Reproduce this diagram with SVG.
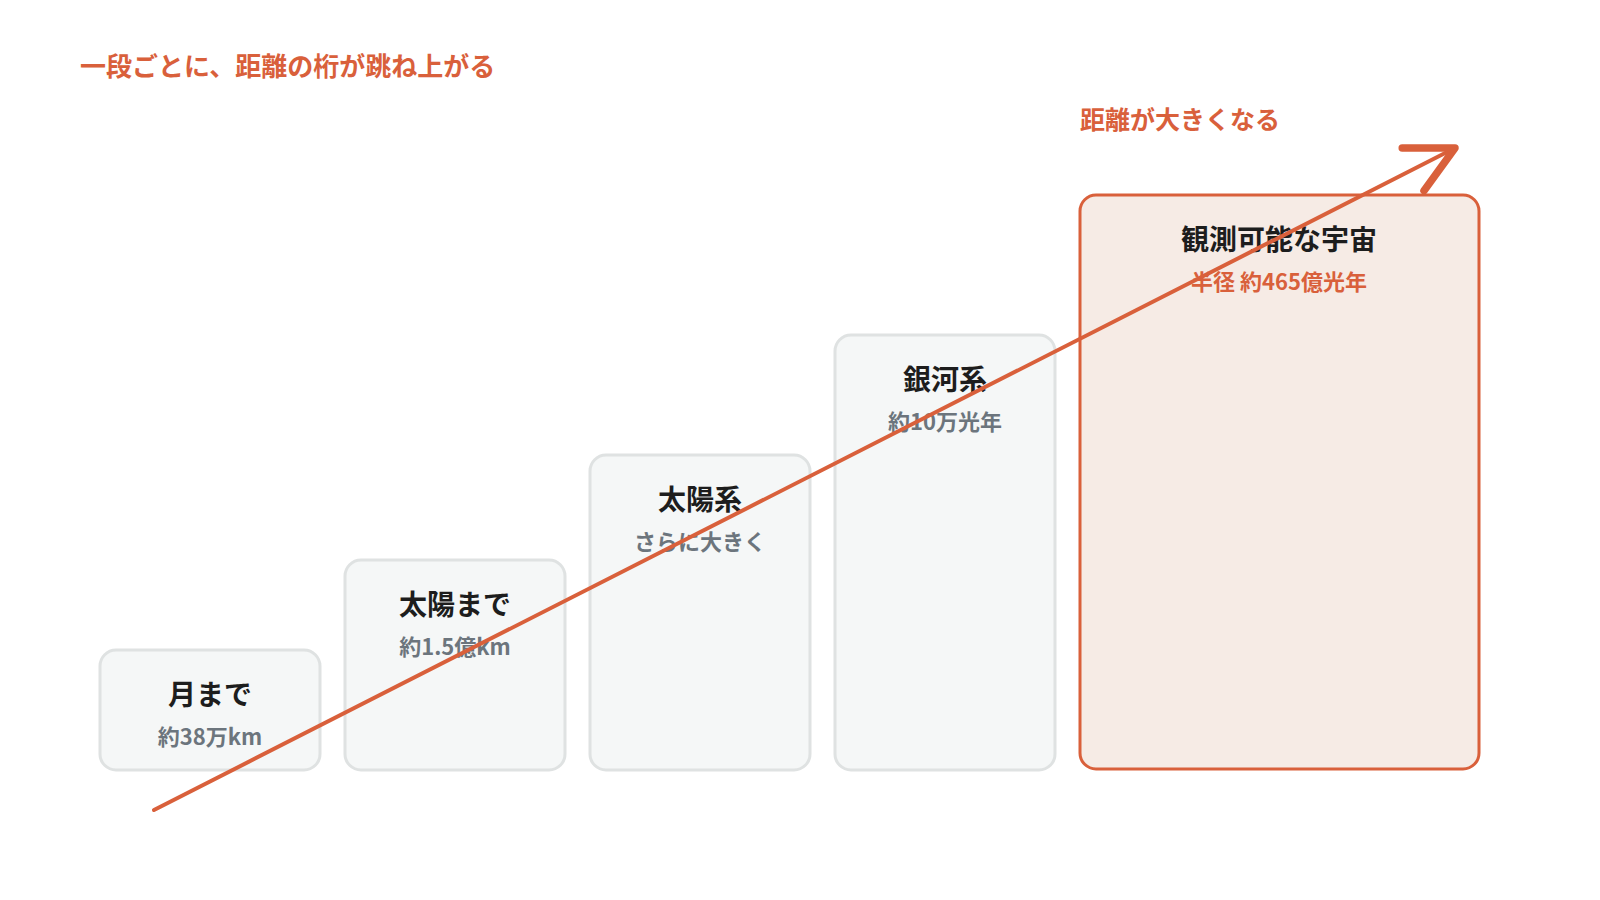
<svg xmlns="http://www.w3.org/2000/svg" width="1600" height="900" viewBox="0 0 1600 900">
  <style>
    text { font-family: "Noto Sans CJK JP", "Noto Sans", "Liberation Sans", sans-serif; }
    .bg { fill: #ffffff; }
    .box { fill: #f5f7f7; stroke: #dfe2e2; stroke-width: 3; }
    .box-hl { fill: #f6ebe5; stroke: #d9603b; stroke-width: 3; }
    .title { font-size: 28px; font-weight: 700; fill: #1d1d1d; text-anchor: middle; }
    .sub { font-size: 22px; font-weight: 600; fill: #6c757d; text-anchor: middle; }
    .sub-hl { font-size: 22px; font-weight: 600; fill: #d9603b; text-anchor: middle; }
    .label { font-weight: 700; fill: #d9603b; }
    .conn { fill: none; stroke: #d9603b; stroke-width: 4; stroke-linecap: round; }
    .head { fill: none; stroke: #d9603b; stroke-width: 7.5; stroke-linecap: round; stroke-linejoin: round; }
  </style>
  <defs>
    <marker id="arrow" markerUnits="userSpaceOnUse" viewBox="-60 -35 70 70" markerWidth="70" markerHeight="70" refX="0" refY="0" orient="auto" overflow="visible">
      <path class="head" d="M -47 -24 L 0 0 L -47 24"/>
    </marker>
  </defs>
  <rect class="bg" x="0" y="0" width="1600" height="900"/>

  <text id="heading" class="label" x="80" y="76" font-size="26">一段ごとに、距離の桁が跳ね上がる</text>
  <text id="axis-label" class="label" x="1080" y="129" font-size="25">距離が大きくなる</text>

  <g id="node-moon">
    <rect class="box" x="100" y="650" width="220" height="120" rx="16"/>
    <text class="title" x="210" y="705">月まで</text>
    <text class="sub" x="210" y="745">約38万km</text>
  </g>
  <g id="node-sun">
    <rect class="box" x="345" y="560" width="220" height="210" rx="16"/>
    <text class="title" x="455" y="615">太陽まで</text>
    <text class="sub" x="455" y="655">約1.5億km</text>
  </g>
  <g id="node-solar-system">
    <rect class="box" x="590" y="455" width="220" height="315" rx="16"/>
    <text class="title" x="700" y="510">太陽系</text>
    <text class="sub" x="700" y="550">さらに大きく</text>
  </g>
  <g id="node-galaxy">
    <rect class="box" x="835" y="335" width="220" height="435" rx="16"/>
    <text class="title" x="945" y="390">銀河系</text>
    <text class="sub" x="945" y="430">約10万光年</text>
  </g>
  <g id="node-universe">
    <rect class="box-hl" x="1080" y="195" width="399" height="574" rx="16"/>
    <text class="title" x="1279" y="250">観測可能な宇宙</text>
    <text class="sub-hl" x="1279" y="290">半径 約465億光年</text>
  </g>

  <g id="connectors">
    <path class="conn" d="M 154 810 L 1455 148" marker-end="url(#arrow)"/>
  </g>
</svg>
